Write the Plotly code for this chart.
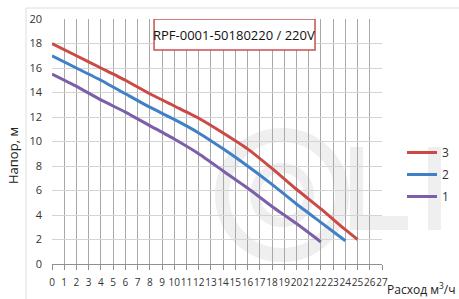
import plotly.graph_objects as go

# Data
x3 = [0, 2, 4, 6, 8, 10, 12, 14, 16, 18, 20, 22, 24, 25]
y3 = [18.0, 17.0, 16.0, 15.0, 13.9, 12.9, 11.9, 10.7, 9.4, 7.8, 6.1, 4.5, 2.8, 2.0]
x2 = [0, 2, 4, 6, 8, 10, 12, 14, 16, 18, 20, 22, 24]
y2 = [17.0, 16.0, 15.0, 13.9, 12.8, 11.8, 10.7, 9.4, 8.0, 6.5, 4.9, 3.4, 1.9]
x1 = [0, 2, 4, 6, 8, 10, 12, 14, 16, 18, 20, 22]
y1 = [15.5, 14.5, 13.4, 12.4, 11.3, 10.2, 9.0, 7.6, 6.2, 4.7, 3.3, 1.8]
series_names = ["3", "2", "1"]
series_colors = ["#cc4a45", "#3f80c8", "#7c5fa8"]
x_ticks = list(range(0, 28))
y_ticks = list(range(0, 21, 2))
title_text = "RPF-0001-50180220 / 220V"
y_title = "Напор, м"
x_title = "Расход м<sup>3</sup>/ч"

FONT = "Open Sans"
W, H = 459, 299
L, R, T, B = 52, 382, 19, 264  # plot area in px


def px2paper_x(px):
    return (px - L) / (R - L)


def px2paper_y(py):
    return (B - py) / (B - T)


fig = go.Figure()
for xs, ys, name, col in zip([x3, x2, x1], [y3, y2, y1], series_names, series_colors):
    fig.add_trace(go.Scatter(x=xs, y=ys, mode="lines", name=name, legendgroup=name,
                             line=dict(color=col, width=3, shape="spline", smoothing=0.5)))

shapes = []
wm = "#efefef"
# faint watermark (behind grid)
shapes.append(dict(type="circle", xref="paper", yref="paper", layer="below",
                   x0=px2paper_x(222), x1=px2paper_x(342), y0=px2paper_y(255), y1=px2paper_y(135),
                   line=dict(color=wm, width=14)))
shapes.append(dict(type="circle", xref="paper", yref="paper", layer="below",
                   x0=px2paper_x(255), x1=px2paper_x(309), y0=px2paper_y(222), y1=px2paper_y(168),
                   line=dict(color=wm, width=10)))
shapes.append(dict(type="rect", xref="paper", yref="paper", layer="below",
                   x0=px2paper_x(350), x1=px2paper_x(363), y0=px2paper_y(230), y1=px2paper_y(147),
                   fillcolor=wm, line=dict(width=0)))
shapes.append(dict(type="rect", xref="paper", yref="paper", layer="below",
                   x0=px2paper_x(350), x1=px2paper_x(408), y0=px2paper_y(230), y1=px2paper_y(216),
                   fillcolor=wm, line=dict(width=0)))
shapes.append(dict(type="rect", xref="paper", yref="paper", layer="below",
                   x0=px2paper_x(428), x1=px2paper_x(441), y0=px2paper_y(230), y1=px2paper_y(147),
                   fillcolor=wm, line=dict(width=0)))
# outer frame lines
shapes.append(dict(type="line", xref="paper", yref="paper",
                   x0=px2paper_x(26), x1=px2paper_x(470), y0=px2paper_y(8), y1=px2paper_y(8),
                   line=dict(color="#dedede", width=1)))
shapes.append(dict(type="line", xref="paper", yref="paper",
                   x0=px2paper_x(26), x1=px2paper_x(26), y0=px2paper_y(8), y1=px2paper_y(310),
                   line=dict(color="#dedede", width=1)))
# title box
shapes.append(dict(type="rect", xref="x", yref="y", layer="above",
                   x0=8.35, x1=21.52, y0=17.47, y1=20,
                   fillcolor="white", line=dict(color="#c9504c", width=1.5)))

annotations = [
    dict(text=title_text, x=14.93, y=18.72, xref="x", yref="y", showarrow=False,
         xanchor="center", yanchor="middle",
         font=dict(family=FONT, size=13, color="#111111")),
    dict(text=y_title, x=px2paper_x(13), y=px2paper_y(156), xref="paper", yref="paper",
         xanchor="center", yanchor="middle",
         showarrow=False, textangle=-90, font=dict(family=FONT, size=13, color="#222222")),
    dict(text=x_title, x=px2paper_x(457), y=px2paper_y(289), xref="paper", yref="paper",
         xanchor="right", yanchor="middle",
         showarrow=False, font=dict(family=FONT, size=12, color="#222222")),
]

fig.update_layout(
    template="none",
    width=W, height=H,
    margin=dict(l=L, r=W - R, t=T, b=H - B, pad=0, autoexpand=False),
    paper_bgcolor="white", plot_bgcolor="white",
    shapes=shapes, annotations=annotations,
    showlegend=True,
    legend=dict(x=px2paper_x(402), y=px2paper_y(138), xanchor="left", yanchor="top",
                font=dict(family=FONT, size=12, color="#333333"),
                tracegroupgap=3, bgcolor="rgba(0,0,0,0)", borderwidth=0),
    xaxis=dict(range=[0, 27], tickmode="array", tickvals=x_ticks, ticktext=[str(v) for v in x_ticks],
               showgrid=True, gridcolor="#a8a8a8", gridwidth=1, automargin=False,
               showline=True, linecolor="#909090", linewidth=1,
               ticks="outside", ticklen=5, tickcolor="#909090", tickangle=0,
               zeroline=False, fixedrange=True, ticklabelstandoff=4,
               tickfont=dict(family=FONT, size=10, color="#333333")),
    yaxis=dict(range=[0, 20], tickmode="array", tickvals=y_ticks, automargin=False,
               showgrid=True, gridcolor="#d4d4d4", gridwidth=1, fixedrange=True,
               showline=False, ticks="", zeroline=False, ticklabelstandoff=9,
               tickfont=dict(family=FONT, size=11, color="#333333")),
)

fig.write_html("out.html", config={"displayModeBar": False},
               post_script="document.body.style.margin='0';document.body.style.overflow='hidden';")
